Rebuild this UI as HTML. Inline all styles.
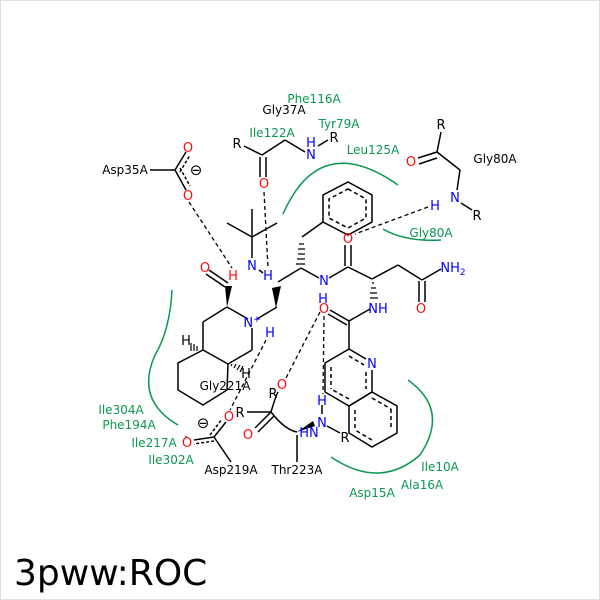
<!DOCTYPE html>
<html><head><style>
html,body{margin:0;padding:0;background:#fff}
svg{display:block}
text{font-family:"DejaVu Sans","Liberation Sans",sans-serif}
</style></head><body>
<svg width="600" height="600" viewBox="0 0 600 600" xmlns="http://www.w3.org/2000/svg">
<rect x="0.5" y="0.5" width="599" height="599" fill="#fff" stroke="#e0e0e0"/>
<g fill="none" stroke="#0a9850" stroke-width="1.5">
<path d="M283,214 Q320,130 398,185"/>
<path d="M383,229 Q405,242 441,240"/>
<path d="M172,290 Q170,330 155,355 Q135,400 178,425"/>
<path d="M408,380 Q450,410 420,455 Q380,490 331,457"/>
</g>
<g stroke="#000" stroke-width="1.5" fill="none">
<polygon points="348,182 372,195 372,222 348,235 323,222 323,195"/>
<polygon points="348,189 366,199 366,218 348,228 329,218 329,199" stroke-dasharray="4,3"/>
<line x1="323" y1="222" x2="302" y2="237"/>
<line x1="301" y1="268" x2="278" y2="282"/>
<line x1="301" y1="268" x2="319" y2="278"/>
<line x1="329" y1="278" x2="348" y2="267"/>
<line x1="345" y1="266" x2="345" y2="245"/><line x1="351" y1="266" x2="351" y2="245"/>
<line x1="348" y1="267" x2="372" y2="279"/>
<line x1="372" y1="279" x2="398" y2="265"/>
<line x1="398" y1="265" x2="422" y2="280"/>
<line x1="419" y1="281" x2="419" y2="302"/><line x1="425" y1="281" x2="425" y2="302"/>
<line x1="422" y1="280" x2="441" y2="269"/>
<line x1="370" y1="309" x2="349" y2="321"/>
<line x1="349" y1="321" x2="330" y2="310"/><line x1="347" y1="325" x2="328" y2="314"/>
<line x1="349" y1="321" x2="349" y2="349"/>
<polyline points="366,359 349,349 325,363 325,392 349,406 372,392 372,370"/>
<polygon points="372,392 397,406 397,433 372,447 349,433 349,406"/>
<g stroke-dasharray="4,3">
<line x1="331" y1="367" x2="331" y2="389"/><line x1="349" y1="399" x2="331" y2="389"/>
<line x1="349" y1="356" x2="364" y2="365"/><line x1="366" y1="372" x2="366" y2="389"/>
<line x1="391" y1="409" x2="391" y2="430"/><line x1="372" y1="440" x2="355" y2="430"/><line x1="355" y1="410" x2="355" y2="430"/>
<line x1="372" y1="398" x2="391" y2="409"/>
</g>
<line x1="227" y1="307" x2="248" y2="319"/>
<line x1="252" y1="328" x2="252" y2="350"/>
<line x1="252" y1="350" x2="228" y2="364"/>
<line x1="228" y1="364" x2="203" y2="350"/>
<line x1="203" y1="350" x2="203" y2="322"/>
<line x1="203" y1="322" x2="227" y2="307"/>
<polyline points="203,350 178,363 178,390 203,405 227,390 228,364"/>
<line x1="228" y1="283" x2="209" y2="270"/><line x1="225" y1="287" x2="206" y2="274"/>
<line x1="252" y1="258" x2="252" y2="237"/>
<line x1="252" y1="237" x2="227" y2="223"/><line x1="252" y1="237" x2="277" y2="223"/><line x1="252" y1="237" x2="252" y2="209"/>
<line x1="259" y1="270" x2="263" y2="273"/>
<line x1="277" y1="307" x2="257" y2="319"/>
<line x1="150" y1="170" x2="175" y2="170"/>
<line x1="175" y1="170" x2="186" y2="152"/><line x1="175" y1="170" x2="186" y2="190"/>
<line x1="180" y1="172" x2="190" y2="155" stroke-dasharray="3,2"/><line x1="180" y1="168" x2="190" y2="186" stroke-dasharray="3,2"/>
<line x1="244" y1="146" x2="262" y2="155"/>
<line x1="260" y1="157" x2="260" y2="177"/><line x1="266" y1="157" x2="266" y2="177"/>
<line x1="262" y1="155" x2="285" y2="140"/><line x1="285" y1="140" x2="305" y2="152"/>
<line x1="318" y1="146" x2="328" y2="140"/>
<line x1="441" y1="132" x2="437" y2="152"/>
<line x1="437" y1="152" x2="418" y2="158"/><line x1="437" y1="158" x2="419" y2="164"/>
<line x1="437" y1="152" x2="460" y2="170"/><line x1="460" y1="170" x2="457" y2="190"/>
<line x1="461" y1="203" x2="472" y2="210"/>
<line x1="214" y1="437" x2="226" y2="422"/>
<line x1="210" y1="435" x2="222" y2="419" stroke-dasharray="3,2"/>
<line x1="214" y1="437" x2="194" y2="440"/><line x1="214" y1="441" x2="194" y2="444" stroke-dasharray="3,2"/>
<line x1="214" y1="437" x2="231" y2="462"/>
<line x1="247" y1="412" x2="271" y2="412"/>
<line x1="271" y1="412" x2="255" y2="428"/><line x1="274" y1="416" x2="258" y2="432"/>
<path d="M271,412 Q276,395 278,392 M271,412 Q285,430 297,432"/>
<line x1="297" y1="435" x2="297" y2="462"/>
<line x1="327" y1="426" x2="340" y2="433"/>
<line x1="322" y1="405" x2="322" y2="414"/>
</g>
<g fill="#000">
<polygon points="276,308 272,288 281,286"/>
<polygon points="227,307 225,286 232,286"/>
<polygon points="297,432 313,421 315,426"/>
</g>
<g stroke="#000" stroke-width="1.2">
<path d="M302,240 h0 M299,244h5 M298,249h7 M298,254h7 M297,259h8 M296,264h9"/>
<path d="M372,283h2 M371,288h5 M370,293h7 M370,298h8"/>
<path d="M200,347v0 M197,346v5 M194,344v7 M191,343v8"/>
<path d="M231,366l1,-2 M234,368l2,-4 M237,370l3,-5 M240,372l3,-6"/>
</g>
<g stroke="#000" stroke-width="1.3" stroke-dasharray="4,3" fill="none">
<line x1="189" y1="202" x2="232" y2="268"/>
<line x1="264" y1="192" x2="268" y2="268"/>
<line x1="428" y1="207" x2="355" y2="234"/>
<line x1="266" y1="340" x2="230" y2="410"/>
<line x1="320" y1="312" x2="286" y2="378"/>
<line x1="324" y1="316" x2="323" y2="394"/>
</g>
<g font-size="13" text-anchor="middle">
<g fill="#ff0d0d">
<text x="264" y="188">O</text><text x="188" y="152">O</text><text x="188" y="200">O</text>
<text x="205" y="272">O</text><text x="233" y="280">H</text>
<text x="348" y="243">O</text><text x="421" y="313">O</text><text x="324" y="313">O</text>
<text x="411" y="166">O</text><text x="229" y="421">O</text><text x="187" y="447">O</text>
<text x="282" y="389">O</text><text x="248" y="439">O</text>
</g>
<g fill="#0000ff">
<text x="252" y="270">N</text><text x="268" y="280">H</text>
<text x="324" y="285">N</text><text x="323" y="303">H</text>
<text x="378" y="313">NH</text><text x="453" y="272">NH<tspan font-size="9" dy="3">2</tspan></text>
<text x="372" y="368">N</text>
<text x="252" y="327">N<tspan font-size="9" dy="-5">+</tspan></text><text x="270" y="337">H</text>
<text x="311" y="147">H</text><text x="311" y="159">N</text>
<text x="455" y="202">N</text><text x="435" y="210">H</text>
<text x="322" y="405">H</text><text x="322" y="427">N</text><text x="309" y="437">HN</text>
</g>
<g fill="#000">
<text x="186" y="345">H</text><text x="246" y="378">H</text>
<text x="237" y="148">R</text><text x="334" y="142">R</text><text x="441" y="129">R</text><text x="477" y="220">R</text>
<text x="273" y="398">R</text><text x="240" y="417">R</text><text x="345" y="442">R</text>
<text x="196" y="175" font-size="15">⊖</text><text x="203" y="428" font-size="15">⊖</text>
<text x="186" y="439" font-size="9">-</text>
</g>
<g fill="#000" font-size="12">
<text x="125" y="174">Asp35A</text><text x="284" y="114">Gly37A</text><text x="495" y="163">Gly80A</text>
<text x="225" y="390">Gly221A</text><text x="231" y="474">Asp219A</text><text x="297" y="474">Thr223A</text>
</g>
<g fill="#0a9850" font-size="12">
<text x="314" y="103">Phe116A</text><text x="339" y="128">Tyr79A</text><text x="272" y="137">Ile122A</text>
<text x="373" y="154">Leu125A</text><text x="431" y="237">Gly80A</text>
<text x="121" y="414">Ile304A</text><text x="129" y="429">Phe194A</text><text x="154" y="447">Ile217A</text><text x="171" y="464">Ile302A</text>
<text x="440" y="471">Ile10A</text><text x="422" y="489">Ala16A</text><text x="372" y="497">Asp15A</text>
</g>
</g>
<text x="14" y="585" font-size="36" fill="#000">3pww:ROC</text>
</svg>
</body></html>
